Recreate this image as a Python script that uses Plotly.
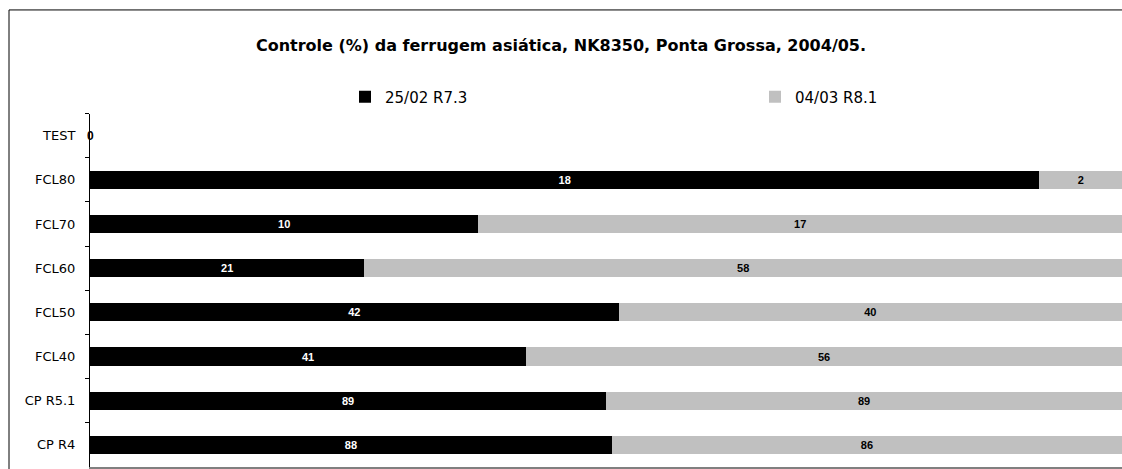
import plotly.graph_objects as go

categories = ["TEST", "FCL80", "FCL70", "FCL60", "FCL50", "FCL40", "CP R5.1", "CP R4"]
s1_name = "25/02 R7.3"
s2_name = "04/03 R8.1"
s1_values = [0, 18.4, 10.2, 21, 42, 41, 89, 88]
s2_values = [0, 1.6, 16.9, 58, 40, 56, 89, 86]
title_text = "Controle (%) da ferrugem asiática, NK8350, Ponta Grossa, 2004/05."

lab_font = dict(family="Liberation Sans, Arial", size=11, weight="bold")

fig = go.Figure()
fig.add_trace(go.Bar(
    y=categories, x=s1_values, name=s1_name, orientation="h",
    marker=dict(color="#000000", line=dict(width=0)),
    text=s1_values, texttemplate="%{text:.0f}", textposition="inside",
    insidetextanchor="middle", textangle=0, constraintext="none",
    textfont=dict(color="white", **lab_font), width=0.41,
))
fig.add_trace(go.Bar(
    y=categories, x=s2_values, name=s2_name, orientation="h",
    marker=dict(color="#C0C0C0", line=dict(width=0)),
    text=s2_values, texttemplate="%{text:.0f}", textposition="inside",
    insidetextanchor="middle", textangle=0, constraintext="none",
    textfont=dict(color="black", **lab_font), width=0.41,
))

# zero-total category label
for c, a, b in zip(categories, s1_values, s2_values):
    if a + b == 0:
        fig.add_annotation(x=0, y=c, text=f"{a:.0f}", showarrow=False,
                           xanchor="center", yanchor="middle",
                           font=dict(color="black", family="Liberation Sans, Arial",
                                     size=12, weight="bold"))

fig.update_layout(
    width=1122, height=469,
    barmode="stack", barnorm="percent",
    paper_bgcolor="white", plot_bgcolor="white",
    margin=dict(l=90, r=0, t=112, b=2),
    title=dict(text=title_text, x=0.5, xanchor="center",
               y=1 - 45 / 469, yanchor="middle", yref="container",
               font=dict(family="DejaVu Sans", size=16, weight="bold", color="black")),
    legend=dict(orientation="h", xref="container", yref="container",
                x=345 / 1122, y=1 - 97 / 469, xanchor="left", yanchor="middle",
                entrywidth=365, entrywidthmode="pixels",
                font=dict(family="DejaVu Sans", size=15, color="black"),
                traceorder="normal"),
    showlegend=True,
    xaxis=dict(range=[0, 100], showticklabels=False, showgrid=False, zeroline=False,
               showline=True, linecolor="#808080", linewidth=2, ticks=""),
    yaxis=dict(autorange="reversed", type="category", showgrid=False, zeroline=False,
               showline=True, linecolor="black", linewidth=1,
               ticks="outside", tickson="boundaries", ticklen=4, tickcolor="black",
               ticklabelstandoff=11,
               tickfont=dict(family="DejaVu Sans", size=13, color="black")),
    shapes=[dict(type="rect", xref="paper", yref="paper",
                 x0=(9 - 90) / 1032, x1=1.05, y0=-0.05, y1=1 + (112 - 8) / 355,
                 line=dict(color="black", width=1), fillcolor="rgba(0,0,0,0)",
                 layer="below")],
)

fig.write_html("out.html", config={"displayModeBar": False},
               post_script="document.body.style.margin='0';document.body.style.overflow='hidden';")
